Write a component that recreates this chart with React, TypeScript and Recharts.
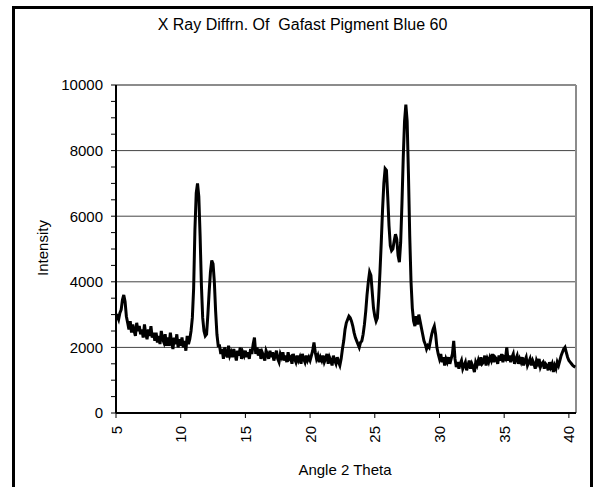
import React from 'react';
import { LineChart, Line, XAxis, YAxis, ReferenceLine } from 'recharts';

// Scan starts at 5 deg 2-theta, one reading every 0.1 deg
const scanStart = 5;
const scanStep = 0.1;

// intensity readings, grouped by 5 degree stretch
const scan05to10 = [
  2900, 2950, 2850, 3050, 3150, 3450, 3600, 3400, 2950, 2750,
  2550, 2800, 2450, 2700, 2500, 2350, 2750, 2500, 2650, 2400,
  2550, 2300, 2700, 2400, 2250, 2550, 2350, 2650, 2300, 2450,
  2200, 2450, 2150, 2350, 2100, 2500, 2250, 2150, 2400, 2050,
  2300, 2050, 2450, 2150, 1950, 2300, 2100, 2400, 2000, 2250,
];
const scan10to15 = [
  2050, 2300, 2000, 2200, 1900, 2350, 2100, 2250, 2500, 2900,
  3800, 5600, 6700, 7000, 6600, 5400, 3900, 2900, 2500, 2350,
  2400, 3000, 3700, 4300, 4650, 4550, 4000, 3100, 2400, 2050,
  2050, 1800, 1950, 1650, 2000, 1800, 1700, 2050, 1750, 1850,
  1700, 1950, 1800, 1600, 1900, 1750, 2000, 1650, 1850, 1750,
];
const scan15to20 = [
  1900, 1700, 1850, 1650, 1950, 1800, 2100, 2300, 1800, 2000,
  1750, 1950, 1650, 1850, 1750, 1600, 1900, 1800, 1650, 1900,
  1700, 1850, 1600, 1750, 1900, 1650, 1550, 1800, 1700, 1850,
  1600, 1750, 1550, 1850, 1650, 1700, 1500, 1800, 1650, 1550,
  1750, 1600, 1700, 1500, 1800, 1650, 1550, 1750, 1600, 1700,
];
const scan20to25 = [
  1600, 1750, 1900, 2150, 1850, 1650, 1750, 1550, 1700, 1600,
  1750, 1550, 1650, 1800, 1500, 1700, 1600, 1450, 1750, 1600,
  1500, 1700, 1550, 1450, 1650, 1950, 2200, 2550, 2750, 2850,
  2950, 2900, 2800, 2650, 2450, 2300, 2200, 2100, 2000, 2150,
  2200, 2400, 2700, 3100, 3600, 4000, 4300, 4200, 3700, 3200,
];
const scan25to30 = [
  2950, 2800, 2900, 3500, 4300, 5200, 6200, 7000, 7450, 7400,
  6600, 5700, 5100, 4950, 5000, 5250, 5450, 5300, 4800, 4600,
  5200, 6400, 7800, 8900, 9400, 8900, 7300, 5400, 4000, 3200,
  2800, 2650, 2950, 2700, 3000, 2800, 2600, 2400, 2200, 2100,
  1950, 2050, 2000, 2200, 2400, 2550, 2650, 2400, 2000, 1800,
];
const scan30to35 = [
  1650, 1800, 1550, 1700, 1450, 1650, 1550, 1700, 1500, 1650,
  1800, 2200, 1650, 1400, 1550, 1350, 1500, 1600, 1350, 1450,
  1550, 1300, 1450, 1600, 1350, 1500, 1400, 1250, 1550, 1450,
  1600, 1450, 1700, 1500, 1550, 1750, 1450, 1650, 1550, 1700,
  1600, 1800, 1550, 1700, 1650, 1500, 1750, 1600, 1800, 1550,
];
const scan35to405 = [
  1700, 1650, 2000, 1600, 1750, 1550, 1700, 1800, 1500, 1650,
  1750, 1500, 1650, 1550, 1700, 1450, 1600, 1700, 1450, 1550,
  1650, 1450, 1600, 1500, 1350, 1600, 1500, 1650, 1400, 1500,
  1550, 1350, 1500, 1450, 1300, 1550, 1400, 1500, 1250, 1450,
  1350, 1550, 1450, 1600, 1750, 1850, 1950, 2000, 1850, 1700,
  1600, 1550, 1500, 1450, 1420, 1400,
];

const xTicks = [5, 10, 15, 20, 25, 30, 35, 40];
const yTicks = [0, 500, 1000, 1500, 2000, 2500, 3000, 3500, 4000, 4500, 5000, 5500, 6000, 6500, 7000, 7500, 8000, 8500, 9000, 9500, 10000];
const gridValues = [2000, 4000, 6000, 8000];
const xMax = 40.55;
const yMax = 10000;

const intensity = [...scan05to10, ...scan10to15, ...scan15to20, ...scan20to25, ...scan25to30, ...scan30to35, ...scan35to405];
const data = intensity.map((v, i) => ({ angle: Number((scanStart + i * scanStep).toFixed(1)), intensity: v }));

const font = '"Liberation Sans", Arial, sans-serif';

const AngleTick = (props: any) => {
  const { x, y, payload } = props;
  const top = y + 6;
  return (
    <text
      x={x}
      y={top}
      transform={`rotate(-90, ${x}, ${top})`}
      textAnchor="end"
      dominantBaseline="central"
      fontSize={15}
      fontFamily={font}
      fill="#000"
    >
      {payload.value}
    </text>
  );
};

export default function App() {
  return (
    <div style={{ position: 'absolute', top: 0, left: 0, width: 595, height: 487, overflow: 'hidden', background: '#fff', fontFamily: font }}>
      <LineChart width={595} height={487} data={data} margin={{ top: 85, right: 19, bottom: 34, left: 0 }}>
        {gridValues.map((g) => (
          <ReferenceLine key={g} y={g} stroke="#444" strokeWidth={1} />
        ))}
        <ReferenceLine y={yMax} stroke="#8c8c8c" strokeWidth={2} />
        <ReferenceLine x={xMax} stroke="#8c8c8c" strokeWidth={2} />
        <XAxis
          dataKey="angle"
          type="number"
          domain={[5, xMax]}
          ticks={xTicks}
          allowDataOverflow
          height={40}
          tickSize={5}
          tickLine={{ stroke: '#000', strokeWidth: 1 }}
          axisLine={{ stroke: '#000', strokeWidth: 2 }}
          tick={<AngleTick />}
          interval={0}
        />
        <YAxis
          type="number"
          domain={[0, yMax]}
          ticks={yTicks}
          width={116}
          tickSize={5}
          tickMargin={8}
          interval={0}
          tickFormatter={(v: number) => (v % 2000 === 0 ? String(v) : '')}
          tick={{ fill: '#000', fontSize: 15, fontFamily: font }}
          tickLine={{ stroke: '#000', strokeWidth: 1 }}
          axisLine={{ stroke: '#000', strokeWidth: 2 }}
        />
        <Line
          type="linear"
          dataKey="intensity"
          stroke="#000"
          strokeWidth={3}
          dot={false}
          isAnimationActive={false}
        />
      </LineChart>

      <div style={{ position: 'absolute', top: 16, left: 0, width: 605, textAlign: 'center', fontSize: 16, whiteSpace: 'pre', color: '#000' }}>
        X Ray Diffrn. Of  Gafast Pigment Blue 60
      </div>
      <div style={{ position: 'absolute', left: 42, top: 248, transform: 'translate(-50%, -50%) rotate(-90deg)', fontSize: 15, whiteSpace: 'nowrap' }}>
        Intensity
      </div>
      <div style={{ position: 'absolute', left: 345, top: 469, transform: 'translate(-50%, -50%)', fontSize: 15, whiteSpace: 'nowrap' }}>
        Angle 2 Theta
      </div>

      <div style={{ position: 'absolute', left: 12, top: 6, width: 581, height: 520, border: '3px solid #000', boxSizing: 'border-box', pointerEvents: 'none' }} />
    </div>
  );
}
